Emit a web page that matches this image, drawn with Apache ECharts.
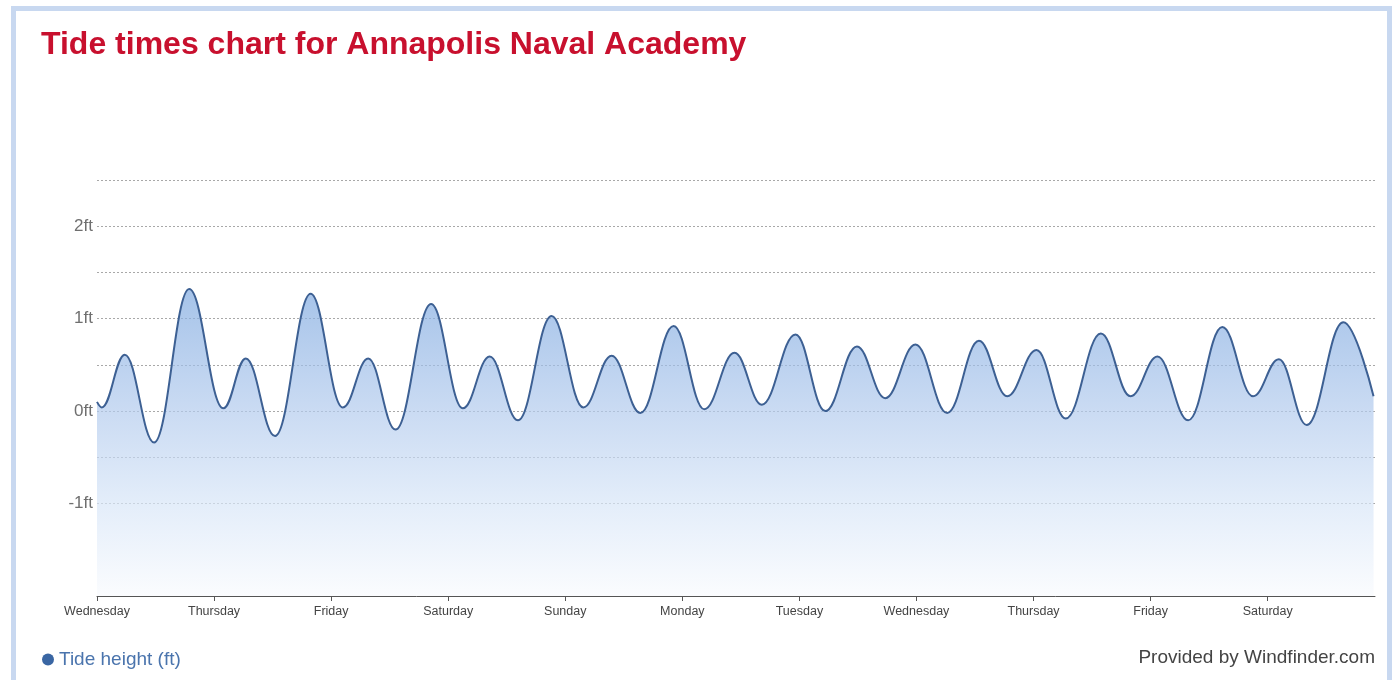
<!DOCTYPE html>
<html>
<head>
<meta charset="utf-8">
<script src="https://cdn.jsdelivr.net/npm/echarts@6/dist/echarts.min.js"></script>
<style>
  html, body { margin: 0; padding: 0; background: #ffffff; }
  #frame { position: absolute; left: 11px; top: 6px; width: 1381px; height: 680px;
           border: 5px solid #c8d8f0; border-bottom: none; box-sizing: border-box; background: #ffffff; }
  #chart { position: absolute; left: 0; top: 0; width: 1397px; height: 680px; }
</style>
</head>
<body>
<div id="frame"></div>
<div id="chart"></div>
<script>
// Hours since Wednesday 00:00 and tide heights (ft) at the turning points of the curve
const tideHours = [0, 1, 5.7, 11.7, 18.9, 25.9, 30.5, 36.5, 43.8, 50.4, 55.6, 61.2, 68.5, 75.0, 80.5, 86.3,
  93.2, 99.7, 105.5, 111.4, 118.2, 124.5, 130.7, 136.3, 143.2, 149.3, 155.8, 161.6, 167.8, 174.3,
  180.8, 186.6, 192.6, 198.6, 205.8, 211.9, 217.4, 223.7, 230.7, 237.0, 242.3, 248.0, 255.5, 261.7];
const tideHeights = [0.10, 0.04, 0.61, -0.34, 1.32, 0.03, 0.57, -0.27, 1.27, 0.04, 0.57, -0.20, 1.16, 0.03, 0.59, -0.10,
  1.03, 0.04, 0.60, -0.02, 0.92, 0.02, 0.63, 0.07, 0.83, 0.00, 0.70, 0.14, 0.72, -0.02,
  0.76, 0.16, 0.66, -0.08, 0.84, 0.16, 0.59, -0.10, 0.91, 0.16, 0.56, -0.15, 0.96, 0.16];
const dayLabels = ['Wednesday', 'Thursday', 'Friday', 'Saturday', 'Sunday', 'Monday', 'Tuesday',
  'Wednesday', 'Thursday', 'Friday', 'Saturday'];
const yTickLabels = { '-1': '-1ft', '0': '0ft', '1': '1ft', '2': '2ft' };

const seriesData = tideHours.map((h, i) => [h, tideHeights[i]]);

const chart = echarts.init(document.getElementById('chart'), null, { renderer: 'canvas' });
const gridCol = '#a8a8a8';
chart.setOption({
  backgroundColor: 'transparent',
  animation: false,
  title: {
    text: 'Tide times chart for Annapolis Naval Academy',
    left: 36, top: 24,
    textStyle: { color: '#c8102e', fontSize: 32, fontWeight: 'bold', fontFamily: 'Liberation Sans, Arial, sans-serif' }
  },
  legend: {
    left: 37, top: 645,
    icon: 'circle', itemWidth: 12, itemHeight: 12, itemGap: 10,
    textStyle: { color: '#4a74ad', fontSize: 19, fontFamily: 'Liberation Sans, Arial, sans-serif' },
    data: ['Tide height (ft)']
  },
  graphic: [{
    type: 'text', right: 22, top: 648,
    style: { text: 'Provided by Windfinder.com', fill: '#444', fontSize: 19, fontFamily: 'Liberation Sans, Arial, sans-serif' }
  }],
  grid: { left: 97, right: 22, top: 180, bottom: 84 },
  xAxis: {
    type: 'value', min: 0, max: 262, interval: 24,
    axisLine: { show: true, onZero: false, lineStyle: { color: '#555', width: 1 } },
    axisTick: { show: true, length: 5, inside: false, lineStyle: { color: '#555' } },
    splitLine: { show: false },
    axisLabel: {
      color: '#444', fontSize: 12.5, margin: 9, fontFamily: 'Liberation Sans, Arial, sans-serif',
      formatter: v => dayLabels[Math.round(v / 24)] || '',
      showMaxLabel: false
    }
  },
  yAxis: {
    type: 'value', min: -2, max: 2.5, interval: 0.5,
    axisLine: { show: false }, axisTick: { show: false },
    axisLabel: {
      color: '#6f6f6f', fontSize: 17, margin: 4, fontFamily: 'Liberation Sans Narrow, Liberation Sans, Arial, sans-serif',
      formatter: v => yTickLabels[String(v)] || ''
    },
    splitLine: {
      show: true,
      lineStyle: {
        type: [2, 2], width: 1,
        color: ['rgba(0,0,0,0)', 'rgba(0,0,0,0)', gridCol, gridCol, gridCol, gridCol, gridCol, gridCol, gridCol, gridCol]
      }
    }
  },
  series: [{
    name: 'Tide height (ft)',
    type: 'line',
    data: seriesData,
    smooth: 0.4,
    smoothMonotone: 'x',
    showSymbol: false,
    symbol: 'circle',
    itemStyle: { color: '#3a66a3' },
    lineStyle: { color: '#3d6093', width: 2 },
    areaStyle: {
      origin: 'start',
      color: {
        type: 'linear', x: 0, y: 0, x2: 0, y2: 1,
        colorStops: [
          { offset: 0, color: '#7fa9df' },
          { offset: 0.4, color: '#b3cbed' },
          { offset: 0.7, color: '#d7e5f7' },
          { offset: 1, color: '#f8fafd' }
        ]
      }
    },
    z: 3
  }]
});
</script>
</body>
</html>
